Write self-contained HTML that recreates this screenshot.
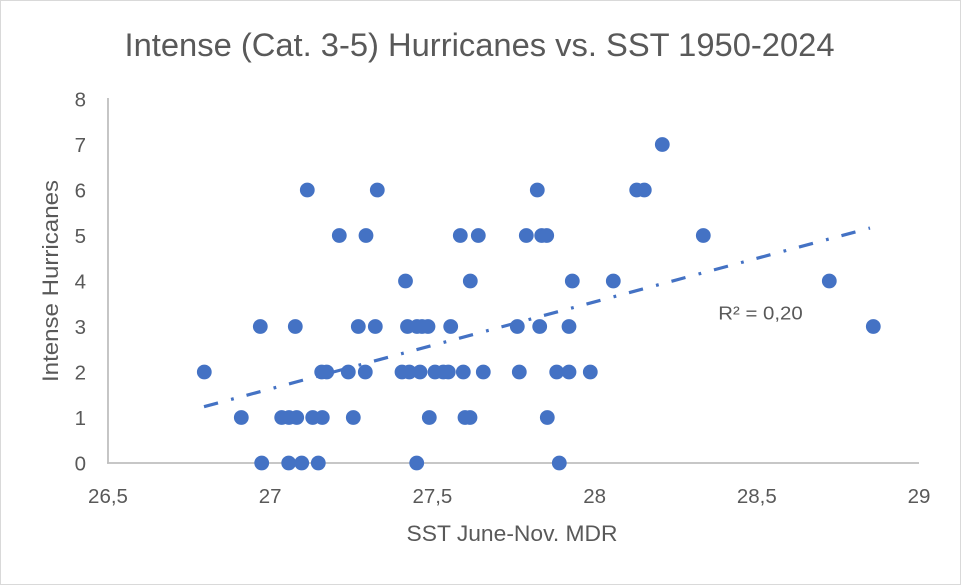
<!DOCTYPE html>
<html>
<head>
<meta charset="utf-8">
<style>
  html,body{margin:0;padding:0;background:#fff;}
  svg{display:block;}
  text{font-family:"Liberation Sans", Arial, sans-serif;fill:#595959;}
</style>
</head>
<body>
<svg width="961" height="585" viewBox="0 0 961 585" xmlns="http://www.w3.org/2000/svg">
  <rect x="0.5" y="0.5" width="960" height="584" fill="#ffffff" stroke="#d9d9d9" stroke-width="1"/>

  <!-- Title -->
  <text x="479.5" y="56" font-size="32" text-anchor="middle" textLength="710" lengthAdjust="spacingAndGlyphs">Intense (Cat. 3-5) Hurricanes vs. SST 1950-2024</text>

  <!-- Axes -->
  <line x1="108" y1="98" x2="108" y2="463.8" stroke="#bfbfbf" stroke-width="1.8"/>
  <line x1="107.1" y1="463" x2="919" y2="463" stroke="#bfbfbf" stroke-width="1.8"/>

  <!-- Y tick labels -->
  <g font-size="20.5" text-anchor="end">
    <text x="86" y="470.5">0</text>
    <text x="86" y="425">1</text>
    <text x="86" y="379.5">2</text>
    <text x="86" y="334">3</text>
    <text x="86" y="288.5">4</text>
    <text x="86" y="243">5</text>
    <text x="86" y="197.5">6</text>
    <text x="86" y="152">7</text>
    <text x="86" y="106.5">8</text>
  </g>

  <!-- X tick labels -->
  <g font-size="20.5" text-anchor="middle">
    <text x="108" y="503">26,5</text>
    <text x="270.2" y="503">27</text>
    <text x="432.4" y="503">27,5</text>
    <text x="594.6" y="503">28</text>
    <text x="756.8" y="503">28,5</text>
    <text x="919" y="503">29</text>
  </g>

  <!-- Axis titles -->
  <text x="512" y="541" font-size="22" text-anchor="middle" textLength="211" lengthAdjust="spacingAndGlyphs">SST June-Nov. MDR</text>
  <text transform="translate(58,281) rotate(-90)" x="0" y="0" font-size="22" text-anchor="middle" textLength="202" lengthAdjust="spacingAndGlyphs">Intense Hurricanes</text>

  <!-- Data points -->
  <g fill="#4472c4">
    <!-- 7 -->
    <circle cx="662.3" cy="144.5" r="7.4"/>
    <!-- 6 -->
    <circle cx="307.3" cy="190" r="7.4"/>
    <circle cx="377.3" cy="190" r="7.4"/>
    <circle cx="537.3" cy="190" r="7.4"/>
    <circle cx="636.7" cy="190" r="7.4"/>
    <circle cx="644.3" cy="190" r="7.4"/>
    <!-- 5 -->
    <circle cx="339.3" cy="235.5" r="7.4"/>
    <circle cx="366" cy="235.5" r="7.4"/>
    <circle cx="460.3" cy="235.5" r="7.4"/>
    <circle cx="478.3" cy="235.5" r="7.4"/>
    <circle cx="526.3" cy="235.5" r="7.4"/>
    <circle cx="541.7" cy="235.5" r="7.4"/>
    <circle cx="546.7" cy="235.5" r="7.4"/>
    <circle cx="703.3" cy="235.5" r="7.4"/>
    <!-- 4 -->
    <circle cx="405.5" cy="281" r="7.4"/>
    <circle cx="470.3" cy="281" r="7.4"/>
    <circle cx="572.3" cy="281" r="7.4"/>
    <circle cx="613.3" cy="281" r="7.4"/>
    <circle cx="829.3" cy="281" r="7.4"/>
    <!-- 3 -->
    <circle cx="260.3" cy="326.5" r="7.4"/>
    <circle cx="295.3" cy="326.5" r="7.4"/>
    <circle cx="358.3" cy="326.5" r="7.4"/>
    <circle cx="375.3" cy="326.5" r="7.4"/>
    <circle cx="407.5" cy="326.5" r="7.4"/>
    <circle cx="417" cy="326.5" r="7.4"/>
    <circle cx="422" cy="326.5" r="7.4"/>
    <circle cx="428" cy="326.5" r="7.4"/>
    <circle cx="450.7" cy="326.5" r="7.4"/>
    <circle cx="517.3" cy="326.5" r="7.4"/>
    <circle cx="539.7" cy="326.5" r="7.4"/>
    <circle cx="569" cy="326.5" r="7.4"/>
    <circle cx="873.3" cy="326.5" r="7.4"/>
    <!-- 2 -->
    <circle cx="204.3" cy="372" r="7.4"/>
    <circle cx="321.7" cy="372" r="7.4"/>
    <circle cx="326.7" cy="372" r="7.4"/>
    <circle cx="348.3" cy="372" r="7.4"/>
    <circle cx="365.3" cy="372" r="7.4"/>
    <circle cx="402" cy="372" r="7.4"/>
    <circle cx="409.3" cy="372" r="7.4"/>
    <circle cx="420" cy="372" r="7.4"/>
    <circle cx="435" cy="372" r="7.4"/>
    <circle cx="443.3" cy="372" r="7.4"/>
    <circle cx="448.3" cy="372" r="7.4"/>
    <circle cx="463.3" cy="372" r="7.4"/>
    <circle cx="483.3" cy="372" r="7.4"/>
    <circle cx="519.3" cy="372" r="7.4"/>
    <circle cx="556.7" cy="372" r="7.4"/>
    <circle cx="569" cy="372" r="7.4"/>
    <circle cx="590.3" cy="372" r="7.4"/>
    <!-- 1 -->
    <circle cx="241.3" cy="417.5" r="7.4"/>
    <circle cx="281.7" cy="417.5" r="7.4"/>
    <circle cx="289" cy="417.5" r="7.4"/>
    <circle cx="296.7" cy="417.5" r="7.4"/>
    <circle cx="312.7" cy="417.5" r="7.4"/>
    <circle cx="322.3" cy="417.5" r="7.4"/>
    <circle cx="353.3" cy="417.5" r="7.4"/>
    <circle cx="429.3" cy="417.5" r="7.4"/>
    <circle cx="465" cy="417.5" r="7.4"/>
    <circle cx="470" cy="417.5" r="7.4"/>
    <circle cx="547.3" cy="417.5" r="7.4"/>
    <!-- 0 -->
    <circle cx="261.7" cy="463" r="7.4"/>
    <circle cx="288.7" cy="463" r="7.4"/>
    <circle cx="301.7" cy="463" r="7.4"/>
    <circle cx="318.3" cy="463" r="7.4"/>
    <circle cx="416.7" cy="463" r="7.4"/>
    <circle cx="559.3" cy="463" r="7.4"/>
  </g>

  <!-- Trendline (dash-dot) -->
  <line x1="204" y1="406.7" x2="870" y2="228" stroke="#4472c4" stroke-width="3.2" stroke-linecap="butt" stroke-dasharray="14.5 13.5 2.8 13.2"/>

  <!-- R² label -->
  <text x="718.3" y="319.3" font-size="18.5" textLength="84.4" lengthAdjust="spacingAndGlyphs">R² = 0,20</text>
</svg>
</body>
</html>
